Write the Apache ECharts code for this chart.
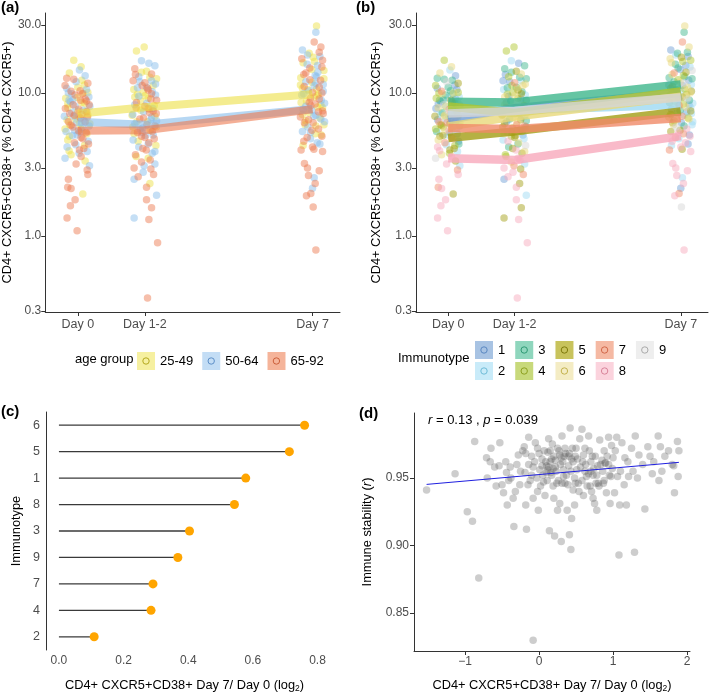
<!DOCTYPE html>
<html>
<head>
<meta charset="utf-8">
<script src="https://cdn.jsdelivr.net/npm/echarts@6/dist/echarts.min.js"></script>
<style>
  html, body { margin: 0; padding: 0; background: #fff; }
  #chart { width: 709px; height: 694px; }
</style>
</head>
<body>
<div id="chart"></div>
<script>
// 데이터
const dayPositions = [0, 2, 7];
const dayLabels = ['Day 0', 'Day 1-2', 'Day 7'];
const pctTicks = [0.3, 1, 3, 10, 30];

const ageGroups = ['25-49', '50-64', '65-92'];
const ageLines = [
  [7.16, 7.97, 9.82],
  [6.3, 6.0, 7.74],
  [5.45, 5.5, 7.7],
];

const immunotypes = ['1', '2', '3', '4', '5', '6', '7', '8', '9'];
const typeLines = [
  [6.5, 7.85, 10.0],
  [7.5, 7.6, 8.3],
  [8.7, 8.6, 11.5],
  [8.05, 7.25, 10.25],
  [4.85, 5.4, 7.45],
  [5.85, 6.85, 9.45],
  [5.7, 5.6, 6.7],
  [3.5, 3.4, 5.0],
  [7.2, 7.5, 9.3],
];

// [jitter, value, age group index, immunotype]
const day0Points = [
  [-0.12,17.0,0,4],[0.1,15.3,0,6],[0.05,14.5,1,2],[-0.25,13.8,0,6],[0.22,13.2,1,1],[-0.33,12.7,2,3],[0.12,12.3,0,3],[-0.05,12.0,1,9],[0.3,11.7,2,5],[-0.38,11.3,2,4],
  [0.0,11.0,0,3],[0.26,10.6,1,1],[-0.2,10.3,2,7],[0.16,10.0,0,6],[-0.08,9.7,2,3],[0.33,9.4,1,2],[-0.36,9.2,0,4],[0.08,8.9,2,5],[-0.22,8.7,1,1],[0.2,8.5,0,3],
  [-0.14,8.3,2,9],[0.36,8.1,1,2],[-0.3,7.9,0,6],[0.03,7.7,2,7],[0.24,7.5,0,4],[-0.18,7.3,1,3],[0.12,7.1,2,1],[-0.4,6.9,1,5],[0.29,6.8,2,6],[-0.07,6.6,0,2],
  [0.18,6.4,1,8],[-0.28,6.3,2,7],[0.05,6.1,0,5],[0.34,5.9,1,1],[-0.15,5.8,2,4],[0.1,5.6,0,6],[-0.35,5.4,1,3],[0.25,5.3,2,9],[-0.02,5.1,1,2],[-0.25,5.0,0,5],
  [0.15,4.8,2,8],[0.31,4.6,1,1],[-0.1,4.5,2,7],[0.2,4.3,0,4],[-0.32,4.2,1,8],[0.05,4.0,2,5],[0.28,3.9,1,2],[-0.2,3.7,0,6],[0.1,3.6,2,8],[-0.38,3.5,1,9],
  [0.22,3.35,0,5],[-0.05,3.2,2,8],[0.35,3.1,1,2],[-0.15,9.0,1,3],[0.02,6.9,0,1],[-0.24,6.0,0,4],[0.27,7.4,2,5],[-0.1,5.5,1,6],[0.14,9.9,2,3],[-0.3,8.4,0,1],
  [-0.33,10.8,1,1],[0.07,10.4,2,3],[0.3,10.1,0,4],[-0.18,9.9,1,6],[-0.02,9.3,0,2],[0.22,9.1,2,1],[-0.26,8.9,1,3],[0.12,8.6,0,5],[0.34,8.3,2,6],[-0.08,8.1,1,4],
  [-0.37,7.8,2,1],[0.16,7.6,1,3],[0.0,7.5,0,9],[-0.24,7.2,2,2],[0.3,7.0,0,5],[-0.12,6.9,1,6],[0.08,6.7,2,4],[-0.32,6.5,0,1],[0.22,6.3,2,3],[-0.04,6.2,1,7],
  [0.36,6.1,0,6],[-0.2,5.95,2,5],[0.14,5.75,1,2],[-0.38,5.6,0,4],[0.02,5.45,2,8],[0.27,5.2,0,1],[-0.16,5.05,1,5],[0.1,4.9,2,7],[-0.3,4.7,0,6],[0.32,4.4,2,3],
  [-0.06,4.35,1,2],[0.18,4.1,2,5],[-0.26,3.95,0,8],[0.04,3.8,1,4],[-0.12,12.5,2,3],[0.2,11.4,0,1],[-0.28,10.0,1,4],[0.26,8.8,2,2],[-0.1,7.0,2,6],[0.05,5.3,1,3],
  [0.28,2.9,2,7],[0.3,2.7,2,8],[-0.28,2.5,2,8],[-0.3,2.2,2,7],[-0.2,2.15,2,8],[0.15,1.97,0,5],[-0.08,1.8,2,8],[-0.22,1.63,2,8],[-0.32,1.34,2,8],[-0.02,1.09,2,8],
];
const day12Points = [
  [-0.25,19.7,0,4],[-0.02,21.0,0,4],[-0.1,16.8,1,2],[0.12,16.2,1,1],[0.3,15.5,1,3],[-0.3,14.8,2,3],[0.05,14.2,0,5],[0.2,13.6,2,6],[-0.18,13.0,1,4],[0.35,12.6,0,3],
  [-0.35,12.2,2,1],[0.0,11.8,2,7],[0.25,11.3,0,6],[-0.22,10.9,1,3],[0.1,10.5,2,5],[-0.05,10.1,0,4],[0.32,9.7,1,2],[-0.3,9.4,0,6],[0.18,9.1,2,1],[-0.12,8.8,0,3],
  [0.06,8.5,1,9],[0.28,8.2,0,5],[-0.26,7.9,2,7],[0.14,7.7,0,4],[-0.04,7.4,1,1],[0.34,7.2,2,6],[-0.38,7.0,0,5],[0.2,6.8,1,2],[-0.15,6.6,2,3],[0.08,6.3,0,6],
  [-0.3,6.1,1,5],[0.3,5.9,2,7],[-0.06,5.7,1,4],[0.16,5.5,0,5],[-0.22,5.3,2,8],[0.25,5.1,1,1],[0.0,4.9,2,5],[-0.35,4.7,1,2],[0.12,4.5,2,6],[0.33,4.3,0,9],
  [-0.18,4.2,1,3],[0.04,4.0,2,8],[0.22,3.8,1,5],[-0.28,3.7,2,4],[0.1,3.5,0,8],[-0.1,3.3,2,6],[0.3,3.2,1,2],[-0.32,3.0,2,8],[0.18,2.95,2,5],[-0.05,2.8,1,8],
  [0.26,2.7,2,7],[-0.2,2.6,2,8],[0.35,6.4,1,3],[-0.25,8.6,2,1],[0.0,9.6,0,6],[-0.1,5.0,2,4],[0.22,10.2,1,3],[-0.36,5.8,0,5],[0.1,7.8,2,2],[-0.15,12.0,1,1],
  [-0.28,13.5,2,1],[0.15,12.9,0,3],[0.32,11.6,1,6],[-0.08,11.3,2,4],[0.05,11.0,1,3],[-0.33,10.6,0,2],[0.2,9.9,2,5],[-0.18,9.5,1,1],[0.1,9.2,0,4],[0.35,8.9,2,3],
  [-0.3,8.3,1,6],[0.0,8.1,2,9],[0.24,7.8,1,1],[-0.12,7.6,0,5],[0.14,7.3,2,3],[-0.36,7.1,1,4],[0.3,6.9,0,2],[-0.04,6.7,2,6],[0.18,6.5,1,5],[-0.24,6.3,0,1],
  [0.06,6.0,2,7],[0.34,5.8,0,3],[-0.14,5.6,1,8],[0.22,5.4,2,4],[-0.32,5.2,0,6],[0.02,5.05,1,5],[0.28,4.8,2,2],[-0.2,4.6,0,8],[0.1,4.4,1,3],[-0.06,4.1,2,5],
  [0.3,3.9,1,6],[-0.26,3.6,0,4],[0.16,3.4,2,8],[-0.02,3.1,1,7],[0.2,12.2,1,2],[-0.1,14.0,0,3],[0.08,10.8,2,6],[-0.22,9.8,0,4],[0.25,7.5,2,1],[-0.08,5.3,1,5],
  [-0.32,2.5,1,1],[0.15,2.33,0,5],[0.05,2.2,2,8],[0.05,1.8,2,8],[0.35,1.93,1,2],[0.2,1.58,2,5],[-0.32,1.34,1,5],[0.12,1.31,2,8],[0.38,0.9,2,8],[0.08,0.37,2,8],
];
const day7Points = [
  [0.12,29.5,0,6],[0.1,26.6,1,3],[0.05,22.8,2,7],[0.25,21.0,2,6],[-0.3,20.0,1,1],[0.2,19.3,2,3],[-0.15,18.5,1,2],[0.02,17.8,0,5],[0.3,17.0,2,4],[-0.28,16.3,0,6],
  [0.15,15.6,1,1],[-0.08,15.0,2,3],[0.34,14.4,0,9],[-0.2,13.8,2,7],[0.08,13.3,1,4],[-0.35,12.8,0,3],[0.24,12.3,2,1],[-0.02,11.9,0,6],[0.32,11.5,1,2],[-0.25,11.1,2,5],
  [0.12,10.7,0,4],[-0.12,10.4,1,3],[0.28,10.0,2,6],[-0.32,9.7,1,1],[0.05,9.4,0,5],[0.2,9.1,2,9],[-0.18,8.8,0,4],[0.36,8.5,1,2],[-0.05,8.2,2,7],[0.15,8.0,0,6],
  [-0.28,7.7,1,1],[0.3,7.5,2,5],[-0.1,7.3,0,3],[0.1,7.0,1,2],[-0.36,6.8,2,4],[0.25,6.6,1,6],[-0.2,6.4,0,5],[0.02,6.2,2,1],[0.34,6.0,0,2],[-0.14,5.8,1,9],
  [0.18,5.6,2,8],[-0.3,5.4,1,5],[0.08,5.2,0,7],[0.28,5.0,2,8],[-0.06,4.8,1,2],[-0.26,4.6,2,8],[0.22,4.4,1,1],[0.0,4.2,2,8],[-0.34,4.0,2,7],[0.3,3.9,2,8],
  [-0.2,12.0,1,3],[0.18,9.8,0,4],[-0.1,8.6,2,6],[0.05,11.3,1,1],[-0.3,10.8,0,5],[0.32,7.2,2,2],[-0.22,6.0,0,6],[0.12,13.0,1,3],[-0.02,5.5,2,5],[0.25,8.3,0,1],
  [-0.1,19.0,0,3],[0.22,18.0,1,1],[-0.32,17.4,2,6],[0.06,16.6,0,4],[-0.16,15.9,1,3],[0.28,15.2,2,2],[-0.02,14.6,0,1],[0.16,14.0,1,5],[-0.26,13.5,2,6],[0.34,12.6,0,3],
  [-0.08,12.4,2,4],[0.1,11.7,1,9],[-0.36,11.4,0,1],[0.2,11.0,2,6],[-0.14,10.6,0,3],[0.32,10.3,1,5],[0.0,10.1,2,2],[-0.26,9.9,1,4],[0.14,9.6,0,6],[-0.06,9.2,2,1],
  [0.26,8.9,1,3],[-0.34,8.6,0,5],[0.08,8.4,2,4],[-0.2,8.1,1,6],[0.3,7.9,0,2],[-0.02,7.6,1,3],[0.18,7.4,2,1],[-0.3,7.1,0,5],[0.04,6.9,1,7],[0.22,6.7,0,4],
  [-0.12,6.5,2,6],[0.36,6.3,1,2],[-0.24,6.2,2,5],[0.1,5.9,0,3],[-0.06,5.3,1,8],[0.26,5.1,0,1],[-0.16,4.9,2,7],[0.14,4.5,1,8],[-0.28,4.3,0,2],[0.04,4.05,2,5],
  [-0.24,3.22,2,8],[-0.15,3.0,2,8],[0.2,2.86,2,8],[-0.12,2.65,2,8],[0.05,2.56,1,2],[0.08,2.33,2,8],[0.0,2.16,1,1],[-0.05,1.99,2,7],[-0.18,1.92,2,8],[0.02,1.6,2,9],[0.1,0.8,2,8],
];

const lollipopTypes = ['2', '4', '7', '9', '3', '8', '1', '5', '6'];
const lollipopValues = [0.109, 0.285, 0.291, 0.368, 0.404, 0.543, 0.578, 0.713, 0.76];

// [log2 Day7/Day0, immune stability]
const stabilityPoints = [
  [-1.52,0.941],[-1.135,0.953],[-0.97,0.925],[-0.9,0.918],[-0.87,0.977],[-0.815,0.876],[-0.71,0.965],[-0.66,0.962],[-0.65,0.972],[-0.53,0.976],
  [-0.5,0.945],[-0.48,0.939],[-0.54,0.959],[-0.44,0.954],[-0.41,0.948],[-0.43,0.93],[-0.39,0.958],[-0.34,0.914],[-0.35,0.935],[-0.3,0.96],
  [-0.28,0.967],[-0.26,0.945],[-0.2,0.973],[-0.19,0.954],[-0.18,0.93],[-0.17,0.912],[-0.14,0.96],[-0.14,0.98],[-0.12,0.948],[-0.1,0.966],
  [-0.08,0.935],[-0.08,0.83],[-0.05,0.976],[-0.02,0.94],[-0.01,0.926],[-0.02,0.972],[0.01,0.956],[0.04,0.964],[0.06,0.947],[0.08,0.937],
  [0.1,0.959],[0.12,0.969],[0.13,0.979],[0.14,0.911],[0.16,0.954],[0.18,0.975],[0.19,0.957],[0.21,0.907],[0.22,0.963],[0.24,0.946],
  [0.25,0.926],[0.27,0.97],[0.28,0.931],[0.3,0.903],[0.31,0.981],[0.32,0.962],[0.33,0.951],[0.35,0.946],[0.36,0.968],[0.38,0.926],
  [0.4,0.959],[0.41,0.908],[0.42,0.987],[0.43,0.897],[0.44,0.92],[0.45,0.972],[0.46,0.941],[0.49,0.966],[0.51,0.956],[0.53,0.946],
  [0.55,0.979],[0.58,0.986],[0.59,0.962],[0.6,0.937],[0.62,0.972],[0.64,0.951],[0.67,0.981],[0.69,0.944],[0.7,0.955],[0.72,0.966],
  [0.73,0.935],[0.75,0.931],[0.77,0.946],[0.78,0.926],[0.79,0.959],[0.82,0.978],[0.85,0.963],[0.87,0.946],[0.88,0.97],[0.9,0.961],
  [0.91,0.939],[0.94,0.98],[0.96,0.931],[0.97,0.951],[0.98,0.974],[1.0,0.965],[1.02,0.939],[1.05,0.98],[1.06,0.951],[1.08,0.893],
  [1.09,0.93],[1.12,0.976],[1.16,0.965],[1.18,0.93],[1.21,0.951],[1.25,0.972],[1.29,0.895],[1.3,0.981],[1.33,0.95],[1.43,0.927],
  [1.47,0.973],[1.5,0.966],[1.53,0.953],[1.61,0.981],[1.62,0.948],[1.64,0.973],[1.7,0.966],[1.82,0.959],[1.83,0.939],[1.87,0.977],
  [1.88,0.951],[1.89,0.97],
  [0.04,0.959],[0.1,0.954],[0.15,0.962],[0.17,0.964],[0.22,0.958],[0.28,0.967],[0.34,0.966],[0.4,0.966],[0.44,0.964],[0.49,0.946],
  [0.67,0.953],[0.73,0.952],[0.8,0.946],[0.89,0.961],[-0.08,0.958],[-0.18,0.968],[0.12,0.956],[0.31,0.946],[0.62,0.955],[0.94,0.96],
  [-0.6,0.958],[-0.45,0.962],[-0.38,0.95],[-0.32,0.94],[-0.25,0.955],[-0.22,0.97],[-0.15,0.945],[-0.1,0.952],[-0.06,0.962],[-0.03,0.95],
  [0.0,0.968],[0.02,0.944],[0.05,0.952],[0.07,0.97],[0.09,0.962],[0.11,0.948],[0.13,0.958],[0.15,0.97],[0.17,0.952],[0.19,0.944],
  [0.2,0.966],[0.23,0.955],[0.25,0.972],[0.26,0.948],[0.29,0.96],[0.3,0.965],[0.33,0.956],[0.35,0.972],[0.37,0.952],[0.39,0.945],
  [0.41,0.968],[0.43,0.955],[0.46,0.962],[0.48,0.95],[0.5,0.972],[0.52,0.964],[0.54,0.94],[0.56,0.958],[0.58,0.948],[0.6,0.967],
  [0.63,0.96],[0.65,0.944],[0.68,0.97],[0.7,0.962],[0.71,0.94],[0.74,0.957],[0.76,0.966],[0.78,0.952],[0.81,0.944],[0.83,0.96],
  [0.86,0.955],[0.88,0.948],[0.92,0.966],[0.95,0.952],[0.99,0.957],[1.03,0.97],[1.1,0.955],[1.15,0.945],[1.2,0.962],[1.27,0.955],
  [1.35,0.967],[1.4,0.96],[1.55,0.962],[1.66,0.955],[1.75,0.97],[-0.7,0.95],[-0.58,0.944],[1.8,0.96],[0.48,0.93],[0.2,0.935],
];
const fitX = [-1.52, 1.89];
const fitY = [0.9452, 0.9615];

// 스타일
const FONT = '"Liberation Sans", Arial, Helvetica, sans-serif';
const ageColors = ['#EDDF45', '#86BDEB', '#EC7A50'];
const ageKeyColors = ['#F6F0A0', '#C3DDF5', '#F5B49A'];
const ageRingColors = ['#B5A91E', '#5D8FC8', '#CC5F3A'];
const typeColors = ['#6F9ED6', '#9DD9F3', '#3FB68C', '#AFC62E', '#A39E14', '#E8D87A', '#F08A68', '#F7A9BC', '#D6D6D6'];
const typeKeyColors = ['#A8C3E3', '#C9EBF9', '#8FD6BD', '#C8D97B', '#C8C35C', '#F4ECC4', '#F5B9A3', '#FBD3DD', '#EEEEEE'];
const typeRingColors = ['#5A88C2', '#6FBCD8', '#2E9A74', '#8DA020', '#7F7A0A', '#C4B24E', '#D2684A', '#D9849A', '#AAAAAA'];

const axisLineStyle = { onZero: false, lineStyle: { color: '#333', width: 1 } };
const tickLabel = { color: '#4D4D4D', fontSize: 12, fontFamily: FONT };
const nameStyle = { color: '#000', fontSize: 12.8, fontFamily: FONT };

const allDays = [day0Points, day12Points, day7Points];
function pointsWhere(field, key) {
  const out = [];
  allDays.forEach((pts, d) => {
    pts.forEach(p => {
      if (p[field] === key) out.push([dayPositions[d] + p[0], p[1]]);
    });
  });
  return out;
}

function dayAxis(gridIndex) {
  return {
    type: 'value', gridIndex, min: -0.97, max: 7.82,
    splitLine: { show: false },
    axisLine: axisLineStyle,
    axisTick: { length: 4, lineStyle: { color: '#333' }, customValues: dayPositions },
    axisLabel: { ...tickLabel, fontSize: 12.5, margin: 6, customValues: dayPositions,
      formatter: v => dayLabels[dayPositions.indexOf(v)] },
  };
}
function pctAxis(gridIndex, gap) {
  return {
    type: 'log', logBase: 10, gridIndex, min: 0.295, max: 36.3,
    name: 'CD4+ CXCR5+CD38+ (% CD4+ CXCR5+)', nameLocation: 'middle', nameGap: gap,
    nameTextStyle: nameStyle,
    splitLine: { show: false },
    axisLine: axisLineStyle,
    axisTick: { length: 4, lineStyle: { color: '#333' }, customValues: pctTicks },
    axisLabel: { ...tickLabel, margin: 4, customValues: pctTicks, formatter: v => v.toFixed(1) },
  };
}

const series = [];
ageGroups.forEach((g, i) => {
  series.push({
    name: g, type: 'scatter', xAxisIndex: 0, yAxisIndex: 0,
    symbolSize: 7.5, itemStyle: { color: ageColors[i], opacity: 0.48 },
    data: pointsWhere(2, i),
  });
});
ageGroups.forEach((g, i) => {
  series.push({
    name: g, type: 'line', xAxisIndex: 0, yAxisIndex: 0, symbol: 'none',
    lineStyle: { color: ageColors[i], width: 8, opacity: 0.6, cap: 'butt' },
    data: dayPositions.map((x, d) => [x, ageLines[i][d]]),
  });
});
immunotypes.forEach((t, i) => {
  series.push({
    name: t, type: 'scatter', xAxisIndex: 1, yAxisIndex: 1,
    symbolSize: 7.5, itemStyle: { color: typeColors[i], opacity: 0.48 },
    data: pointsWhere(3, i + 1),
  });
});
immunotypes.forEach((t, i) => {
  series.push({
    name: t, type: 'line', xAxisIndex: 1, yAxisIndex: 1, symbol: 'none',
    lineStyle: { color: typeColors[i], width: 8.5, opacity: 0.8, cap: 'butt' },
    data: dayPositions.map((x, d) => [x, typeLines[i][d]]),
  });
});
series.push({
  type: 'bar', xAxisIndex: 2, yAxisIndex: 2, barWidth: 1.3,
  itemStyle: { color: '#3A3A3A' }, data: lollipopValues,
});
series.push({
  type: 'scatter', xAxisIndex: 2, yAxisIndex: 2, symbolSize: 9,
  itemStyle: { color: '#FFA500', opacity: 1 },
  data: lollipopValues.map((v, i) => [v, lollipopTypes[i]]),
});
series.push({
  type: 'scatter', xAxisIndex: 3, yAxisIndex: 3, symbolSize: 7.5,
  itemStyle: { color: '#5A5A5A', opacity: 0.3 },
  data: stabilityPoints,
});
series.push({
  type: 'line', xAxisIndex: 3, yAxisIndex: 3, symbol: 'none',
  lineStyle: { color: '#1F1FE0', width: 1 },
  data: fitX.map((x, i) => [x, fitY[i]]),
});

// 범례 키 안의 작은 원
const keyRings = [];
ageGroups.forEach((g, i) => {
  keyRings.push({ cx: 146 + i * 65.2, cy: 361, color: ageRingColors[i] });
});
['1', '3', '5', '7', '9'].forEach((t, k) => {
  keyRings.push({ cx: 484 + k * 40.2, cy: 350, color: typeRingColors[+t - 1] });
});
['2', '4', '6', '8'].forEach((t, k) => {
  keyRings.push({ cx: 484 + k * 40.2, cy: 371, color: typeRingColors[+t - 1] });
});

const log2Name = 'CD4+ CXCR5+CD38+ Day 7/ Day 0 (log{s|2})';
const subRich = { s: { fontSize: 8.5, padding: [7, 0, 0, 0], fontFamily: FONT } };

const legendText = { fontSize: 13, color: '#000', fontFamily: FONT };
const option = {
  animation: false,
  backgroundColor: '#fff',
  textStyle: { fontFamily: FONT },
  title: [
    { text: '(a)', left: 1, top: 0, padding: 0, textStyle: { fontSize: 15, fontWeight: 'bold', color: '#000' } },
    { text: '(b)', left: 356, top: 0, padding: 0, textStyle: { fontSize: 15, fontWeight: 'bold', color: '#000' } },
    { text: '(c)', left: 1, top: 404, padding: 0, textStyle: { fontSize: 15, fontWeight: 'bold', color: '#000' } },
    { text: '(d)', left: 359, top: 406, padding: 0, textStyle: { fontSize: 15, fontWeight: 'bold', color: '#000' } },
    { text: 'age group', left: 75, top: 353, padding: 0, textStyle: { ...legendText, fontWeight: 'normal' } },
    { text: 'Immunotype', left: 398, top: 352, padding: 0, textStyle: { ...legendText, fontWeight: 'normal' } },
  ],
  legend: [
    {
      data: ageGroups.map((g, i) => ({ name: g, itemStyle: { color: ageKeyColors[i], opacity: 1 } })),
      left: 137, top: 352, padding: 0, icon: 'rect', itemWidth: 18, itemHeight: 18, itemGap: 9,
      selectedMode: false, textStyle: legendText,
    },
    {
      data: ['1', '3', '5', '7', '9'].map(t => ({ name: t, itemStyle: { color: typeKeyColors[+t - 1], opacity: 1 } })),
      left: 475, top: 341, padding: 0, icon: 'rect', itemWidth: 18, itemHeight: 18, itemGap: 10,
      selectedMode: false, textStyle: legendText,
    },
    {
      data: ['2', '4', '6', '8'].map(t => ({ name: t, itemStyle: { color: typeKeyColors[+t - 1], opacity: 1 } })),
      left: 475, top: 362, padding: 0, icon: 'rect', itemWidth: 18, itemHeight: 18, itemGap: 10,
      selectedMode: false, textStyle: legendText,
    },
  ],
  grid: [
    { left: 45, right: 369, top: 13, bottom: 382 },
    { left: 416, right: 1, top: 13, bottom: 382 },
    { left: 46, right: 386, top: 412, bottom: 42 },
    { left: 414, right: 19, top: 413, bottom: 40 },
  ],
  xAxis: [
    dayAxis(0),
    dayAxis(1),
    {
      type: 'value', gridIndex: 2, min: -0.04, max: 0.817,
      name: log2Name, nameLocation: 'middle', nameGap: 27,
      nameTextStyle: { ...nameStyle, rich: subRich },
      splitLine: { show: false }, axisLine: axisLineStyle,
      axisTick: { length: 4, lineStyle: { color: '#333' }, customValues: [0, 0.2, 0.4, 0.6, 0.8] },
      axisLabel: { ...tickLabel, margin: 5, customValues: [0, 0.2, 0.4, 0.6, 0.8], formatter: v => v.toFixed(1) },
    },
    {
      type: 'value', gridIndex: 3, min: -1.69, max: 2.04,
      name: log2Name, nameLocation: 'middle', nameGap: 26,
      nameTextStyle: { ...nameStyle, rich: subRich },
      splitLine: { show: false }, axisLine: axisLineStyle,
      axisTick: { length: 4, lineStyle: { color: '#333' }, customValues: [-1, 0, 1, 2] },
      axisLabel: { ...tickLabel, margin: 5, customValues: [-1, 0, 1, 2],
        formatter: v => (v < 0 ? '\u2212' + Math.abs(v) : String(v)) },
    },
  ],
  yAxis: [
    pctAxis(0, 30),
    pctAxis(1, 33),
    {
      type: 'category', gridIndex: 2, data: lollipopTypes,
      name: 'Immunotype', nameLocation: 'middle', nameGap: 23, nameTextStyle: nameStyle,
      axisLine: axisLineStyle,
      axisTick: { length: 4, alignWithLabel: true, lineStyle: { color: '#333' } },
      axisLabel: { ...tickLabel, fontSize: 12.5, margin: 6 },
    },
    {
      type: 'value', gridIndex: 3, min: 0.822, max: 0.998,
      name: 'Immune stability ({i|r})', nameLocation: 'middle', nameGap: 40,
      nameTextStyle: { ...nameStyle, rich: { i: { fontStyle: 'italic', fontSize: 12.8, fontFamily: FONT } } },
      splitLine: { show: false }, axisLine: axisLineStyle,
      axisTick: { length: 4, lineStyle: { color: '#333' }, customValues: [0.85, 0.9, 0.95] },
      axisLabel: { ...tickLabel, margin: 5, customValues: [0.85, 0.9, 0.95], formatter: v => v.toFixed(2) },
    },
  ],
  graphic: [
    {
      type: 'text', left: 428, top: 414,
      style: {
        text: '{i|r} = 0.13 , {i|p} = 0.039',
        fontSize: 13, fontFamily: FONT, fill: '#000',
        rich: { i: { fontStyle: 'italic', fontSize: 13, fontFamily: FONT } },
      },
    },
    ...keyRings.map(k => ({
      type: 'circle', z: 100,
      shape: { cx: k.cx, cy: k.cy, r: 3.2 },
      style: { fill: 'none', stroke: k.color, lineWidth: 1 },
    })),
  ],
  series,
};

const chart = echarts.init(document.getElementById('chart'), null, { renderer: 'canvas' });
chart.setOption(option);
</script>
</body>
</html>
